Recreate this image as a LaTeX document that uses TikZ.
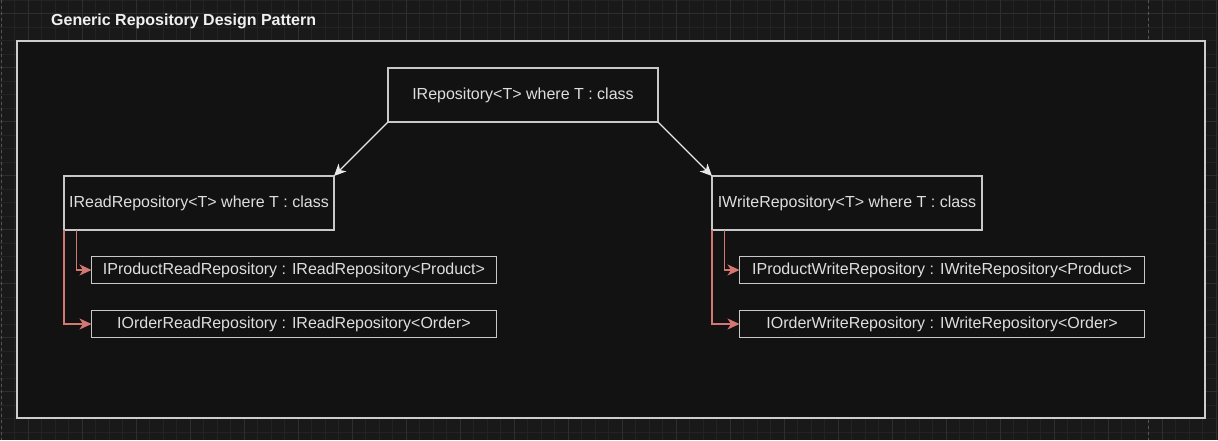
\documentclass[tikz,border=0pt]{standalone}
\usepackage{fontspec}
\setmainfont{Liberation Sans}
\usetikzlibrary{arrows.meta,positioning}

\definecolor{canvasbg}{RGB}{25,25,25}
\definecolor{gridminor}{RGB}{35,35,35}
\definecolor{gridmajor}{RGB}{46,46,46}
\definecolor{pagebreak}{RGB}{85,85,85}
\definecolor{framefill}{RGB}{18,18,18}
\definecolor{frameline}{RGB}{205,205,205}
\definecolor{boxline}{RGB}{200,200,200}
\definecolor{boxtext}{RGB}{222,222,222}
\definecolor{titletext}{RGB}{240,240,240}
\definecolor{arrowwhite}{RGB}{232,232,232}
\definecolor{implred}{RGB}{212,118,114}

\begin{document}
\begin{tikzpicture}[
  x=1pt, y=1pt,
  every node/.style={align=center, font=\fontsize{16pt}{19pt}\selectfont, text=boxtext},
  framebox/.style={draw=frameline, line width=2pt, fill=framefill, inner sep=0pt, outer sep=0pt},
  title/.style={font=\fontsize{16pt}{19pt}\selectfont\bfseries, text=titletext, inner sep=0pt},
  bigbox/.style={draw=boxline, line width=1.4pt, fill=framefill, minimum width=270pt, minimum height=54pt, inner sep=0pt, outer sep=0pt},
  implbox/.style={draw=boxline, line width=1.4pt, fill=framefill, minimum width=405pt, minimum height=27pt, inner sep=0pt, outer sep=0pt},
  arrow/.style={-{Stealth[length=12pt, width=11pt, inset=3.5pt]}, line width=1.3pt, draw=arrowwhite},
  implarrow/.style={-{Stealth[length=12pt, width=11pt, inset=3.5pt]}, line width=1.6pt, draw=implred}
]
  \useasboundingbox (0,0) rectangle (1218,-440);

  % Canvas with grid
  \fill[canvasbg] (0,0) rectangle (1218,-440);
  \foreach \k in {0,...,90}
    \draw[gridminor, line width=0.8pt] ({1.3+13.5*\k},0) -- ({1.3+13.5*\k},-440);
  \foreach \k in {0,...,32}
    \draw[gridminor, line width=0.8pt] (0,{-0.2-13.5*\k}) -- (1218,{-0.2-13.5*\k});
  \foreach \k in {0,...,22}
    \draw[gridmajor, line width=0.9pt] ({28.3+54*\k},0) -- ({28.3+54*\k},-440);
  \foreach \k in {0,...,7}
    \draw[gridmajor, line width=0.9pt] (0,{-13.7-54*\k}) -- (1218,{-13.7-54*\k});
  \draw[pagebreak, line width=0.9pt, dash pattern=on 3pt off 3pt] (1.3,0) -- (1.3,-440);
  \draw[pagebreak, line width=0.9pt, dash pattern=on 3pt off 3pt] (1148.8,0) -- (1148.8,-440);

  % Container
  \node[framebox, anchor=north west, minimum width=1188pt, minimum height=377pt] (frame) at (17,-41) {};
  \node[title, anchor=base west] (heading) at ([xshift=34pt, yshift=15.5pt]frame.north west) {Generic Repository Design Pattern};

  % Generic base
  \node[bigbox] (repo) at (523,-95) {IRepository<T> where T : class};
  \node[bigbox, below left=54pt and 54pt of repo] (readrepo) {IReadRepository<T> where T : class};
  \node[bigbox, below right=54pt and 54pt of repo] (writerepo) {IWriteRepository<T> where T : class};

  \draw[arrow] (repo.south west) -- (readrepo.north east);
  \draw[arrow] (repo.south east) -- (writerepo.north west);

  % Read side
  \node[implbox, below right=26.5pt and 27.5pt of readrepo.south west] (productread) {IProductReadRepository : IReadRepository<Product>};
  \node[implbox, below=27pt of productread] (orderread) {IOrderReadRepository : IReadRepository<Order>};

  \draw[implarrow] ([xshift=12.5pt]readrepo.south west) |- (productread.west);
  \draw[implarrow] (readrepo.south west) |- (orderread.west);

  % Write side
  \node[implbox, below right=26.5pt and 27.5pt of writerepo.south west] (productwrite) {IProductWriteRepository : IWriteRepository<Product>};
  \node[implbox, below=27pt of productwrite] (orderwrite) {IOrderWriteRepository : IWriteRepository<Order>};

  \draw[implarrow] ([xshift=12.5pt]writerepo.south west) |- (productwrite.west);
  \draw[implarrow] (writerepo.south west) |- (orderwrite.west);
\end{tikzpicture}
\end{document}
